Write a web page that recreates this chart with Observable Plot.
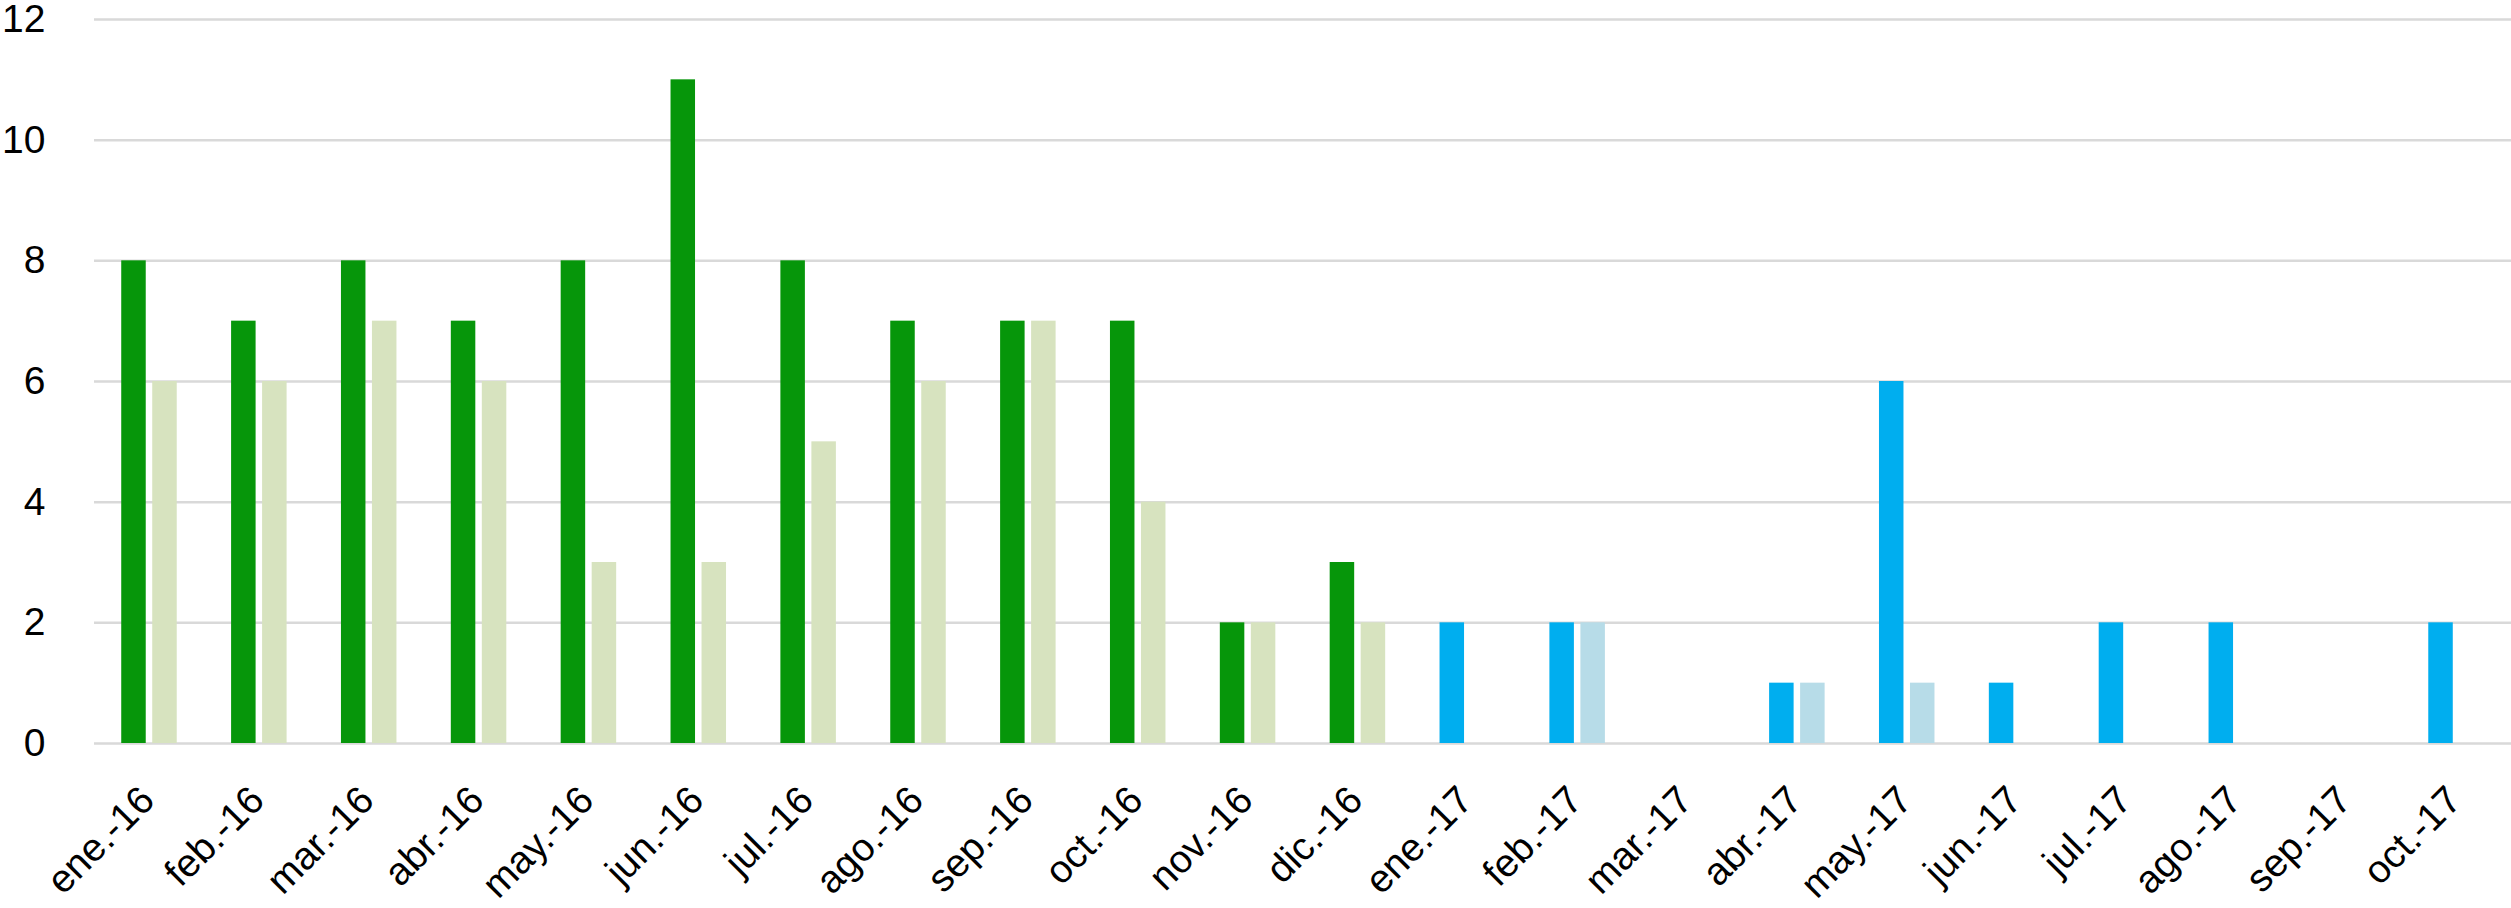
<!DOCTYPE html>
<html>
<head>
<meta charset="utf-8">
<script src="https://cdn.jsdelivr.net/npm/d3@7"></script>
<script src="https://cdn.jsdelivr.net/npm/@observablehq/plot@0.6"></script>
<style>
  html, body { margin: 0; padding: 0; background: #ffffff; }
  #chart svg { display: block; }
</style>
</head>
<body>
<div id="chart"></div>
<script>
// Categories (month labels)
const months = ["ene.-16","feb.-16","mar.-16","abr.-16","may.-16","jun.-16","jul.-16","ago.-16","sep.-16","oct.-16","nov.-16","dic.-16",
                "ene.-17","feb.-17","mar.-17","abr.-17","may.-17","jun.-17","jul.-17","ago.-17","sep.-17","oct.-17"];
// Series values
const serieA = [8,7,8,7,8,11,8,7,7,7,2,3, 2,2,0,1,6,1,2,2,0,2];
const serieB = [6,6,7,6,3,3,5,6,7,4,2,2, 0,2,0,1,1,0,0,0,0,0];
// Y tick values
const yTicks = [0,2,4,6,8,10,12];

// Colours (style)
const colors2016 = {A: "#06960a", B: "#d7e3bf"};
const colors2017 = {A: "#00aeef", B: "#b7dce8"};

const rows = [];
months.forEach((m, i) => {
  const pal = m.endsWith("16") ? colors2016 : colors2017;
  rows.push({month: m, serie: "A", value: serieA[i], color: pal.A});
  rows.push({month: m, serie: "B", value: serieB[i], color: pal.B});
});
const bars = rows.filter(d => d.value > 0);

const font = "'Liberation Sans', Arial, Helvetica, sans-serif";

const chart = Plot.plot({
  width: 2511,
  height: 908,
  marginTop: 19,
  marginBottom: 165,
  marginLeft: 94,
  marginRight: 0,
  style: {fontFamily: font, background: "#ffffff", color: "#000000"},
  x: {domain: months, type: "band", paddingInner: 0.777, paddingOuter: 0.389, round: false, axis: null},
  y: {domain: [0, 12], ticks: yTicks, axis: null},
  marks: [
    Plot.gridY(yTicks, {stroke: "#d9d9d9", strokeOpacity: 1, strokeWidth: 2.5}),
    Plot.barY(bars.filter(d => d.serie === "A"), {x: "month", y: "value", fill: "color", dx: -15.5}),
    Plot.barY(bars.filter(d => d.serie === "B"), {x: "month", y: "value", fill: "color", dx: 15.5}),
    Plot.axisY(yTicks, {tickSize: 0, tickPadding: 49, fontSize: 39, label: null, tickFormat: d => String(d), anchor: "left"}),
    Plot.text(months, {x: d => d, text: d => d, frameAnchor: "bottom", textAnchor: "end", lineAnchor: "bottom",
                       rotate: -45, dx: 7, dy: 59, fontSize: 39, fill: "#000000"})
  ]
});
document.getElementById("chart").appendChild(chart);
</script>
</body>
</html>
